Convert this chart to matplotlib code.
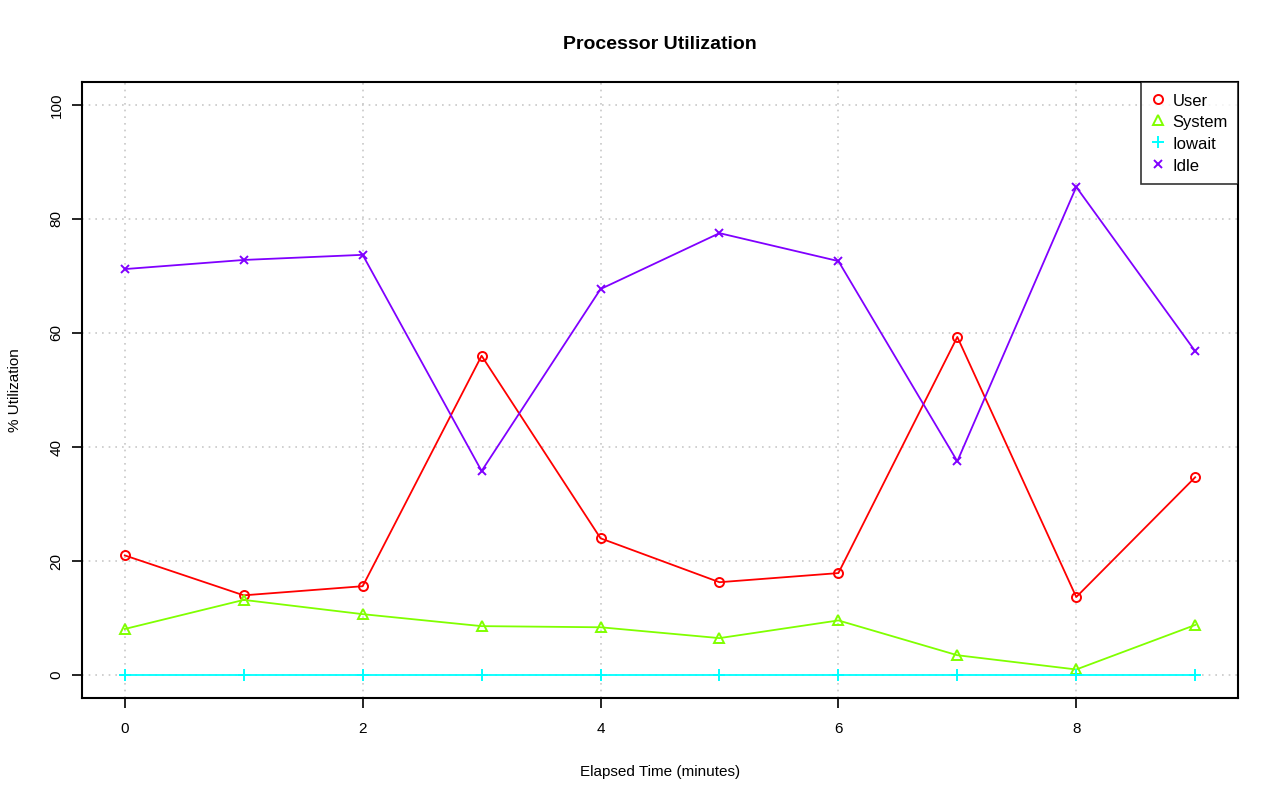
import matplotlib
matplotlib.use('Agg')
import matplotlib.pyplot as plt

plt.rcParams['font.family'] = ['Liberation Sans', 'DejaVu Sans']

minutes = [0, 1, 2, 3, 4, 5, 6, 7, 8, 9]
user = [21.0, 14.0, 15.6, 56.0, 24.0, 16.3, 17.9, 59.3, 13.7, 34.7]
system = [8.1, 13.2, 10.7, 8.6, 8.4, 6.5, 9.6, 3.5, 1.0, 8.8]
iowait = [0, 0, 0, 0, 0, 0, 0, 0, 0, 0]
idle = [71.2, 72.8, 73.7, 35.8, 67.7, 77.5, 72.6, 37.5, 85.6, 56.8]
xticks = [0, 2, 4, 6, 8]
yticks = [0, 20, 40, 60, 80, 100]

fig = plt.figure(figsize=(12.8, 8.01), dpi=100)
ax = fig.add_axes([82/1280, 103/801, 1156/1280, 616/801])

series = [
    ('User', user, '#ff0000', 'o', 6.5),
    ('System', system, '#80ff00', '^', 6.5),
    ('Iowait', iowait, '#00ffff', '+', 9),
    ('Idle', idle, '#8000ff', 'x', 6),
]
for name, vals, col, mk, sz in series:
    ax.plot(minutes, vals, color=col, lw=1.3, marker=mk, ms=sz,
            mfc='none', mec=col, mew=1.4, label=name)

ax.set_xlim(-0.36, 9.36)
ax.set_ylim(-4, 104)
ax.set_xticks(xticks)
ax.set_yticks(yticks)
ax.set_yticklabels([str(v) for v in yticks], rotation=90, va='center')
ax.grid(True, color='#c8c8c8', linestyle=(0, (1, 3)), lw=1.2)
ax.set_axisbelow(True)
ax.tick_params(direction='out', length=7.2, width=1.2, labelsize=11)
ax.tick_params(axis='x', pad=10)
ax.tick_params(axis='y', pad=6)
for s in ax.spines.values():
    s.set_linewidth(1.5)

ax.set_title('Processor Utilization', fontsize=14, fontweight='bold', pad=23.5)
ax.set_xlabel('Elapsed Time (minutes)', fontsize=11, labelpad=21)
ax.set_ylabel('% Utilization', fontsize=11, labelpad=20)

leg = ax.legend(loc='upper right', fontsize=12, frameon=True, fancybox=False,
                borderaxespad=0, handlelength=0.8, handletextpad=0.5,
                borderpad=0.6, labelspacing=0.3, handleheight=1.1)
leg.get_frame().set_edgecolor('black')
leg.get_frame().set_linewidth(1.2)
for h in leg.legend_handles:
    h.set_linestyle('none')

fig.savefig('out.png', dpi=100)
